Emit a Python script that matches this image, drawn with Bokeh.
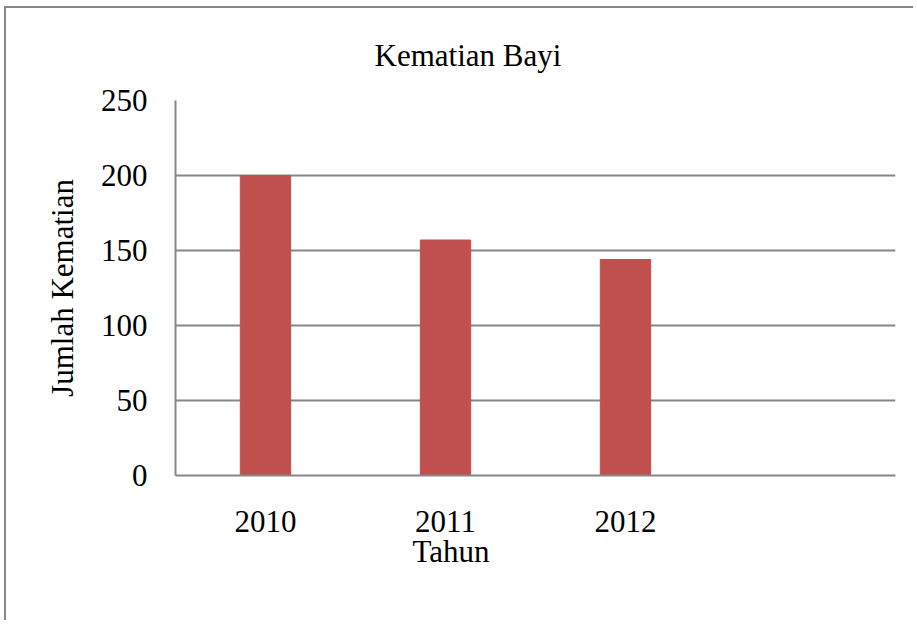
from bokeh.plotting import figure
from bokeh.models import Range1d, FixedTicker, Title
from bokeh.embed import file_html
from bokeh.resources import INLINE

# ---- data ----
years = ["2010", "2011", "2012"]
deaths = [200, 157, 144]
y_ticks = [0, 50, 100, 150, 200, 250]
chart_title = "Kematian Bayi"
x_title = "Tahun"
y_title = "Jumlah Kematian"

# ---- layout ----
n_slots = 4
xs = list(range(1, len(years) + 1))
ML, MT = 4, 6            # offset of the outer chart border
W, H = 909, 614
FL, FT = 175 - ML - 2, 100 - MT - 2
FR = (W + ML + 2) - 895
FB = (H + MT + 2) - 475

FONT = "Liberation Serif"
FS = "31px"
GREY = "#878787"
BAR = "#c0504d"

p = figure(width=W, height=H, output_backend="svg", toolbar_location=None,
           x_range=Range1d(0.5, n_slots + 0.5), y_range=Range1d(0, y_ticks[-1]),
           min_border_left=FL, min_border_right=FR,
           min_border_top=FT, min_border_bottom=FB)
p.styles = {"border-left": "2px solid " + GREY, "border-top": "2px solid " + GREY,
            "margin-left": f"{ML}px", "margin-top": f"{MT}px"}
p.outline_line_color = None
p.background_fill_color = "white"
p.border_fill_color = "white"

p.vbar(x=xs, top=deaths, width=0.28, fill_color=BAR, line_color=BAR)

# title
p.title.text = chart_title
p.title.align = "left"
p.title.offset = 199
p.title.standoff = 52
p.title.vertical_align = "top"
p.title.text_font = FONT
p.title.text_font_size = FS
p.title.text_font_style = "normal"
p.title.text_color = "black"

# grid
p.xgrid.grid_line_color = None
p.ygrid.grid_line_color = GREY
p.ygrid.grid_line_width = 2
p.ygrid.ticker = FixedTicker(ticks=y_ticks)

# y axis
p.yaxis.ticker = FixedTicker(ticks=y_ticks)
p.yaxis.axis_line_color = GREY
p.yaxis.axis_line_width = 2
p.yaxis.major_tick_out = 0
p.yaxis.major_tick_in = 0
p.yaxis.minor_tick_out = 0
p.yaxis.minor_tick_in = 0
p.yaxis.major_label_standoff = 28
p.yaxis.major_label_text_font = FONT
p.yaxis.major_label_text_font_size = FS
p.yaxis.major_label_text_color = "black"
p.yaxis.axis_label = y_title
p.yaxis.axis_label_standoff = 18
p.yaxis.axis_label_text_font = FONT
p.yaxis.axis_label_text_font_size = FS
p.yaxis.axis_label_text_font_style = "normal"
p.yaxis.axis_label_text_color = "black"

# x axis
p.xaxis.ticker = FixedTicker(ticks=xs)
p.xaxis.major_label_overrides = {x: y for x, y in zip(xs, years)}
p.xaxis.axis_line_color = GREY
p.xaxis.axis_line_width = 2
p.xaxis.major_tick_out = 0
p.xaxis.major_tick_in = 0
p.xaxis.minor_tick_out = 0
p.xaxis.minor_tick_in = 0
p.xaxis.major_label_standoff = 35
p.xaxis.major_label_text_font = FONT
p.xaxis.major_label_text_font_size = FS
p.xaxis.major_label_text_color = "black"

# x-axis title, under the middle category as in the original
p.add_layout(Title(text=x_title, align="left", offset=237, standoff=-6,
                   text_font=FONT, text_font_size=FS, text_font_style="normal",
                   text_color="black"), "below")

open("out.html", "w").write(file_html(p, INLINE))
